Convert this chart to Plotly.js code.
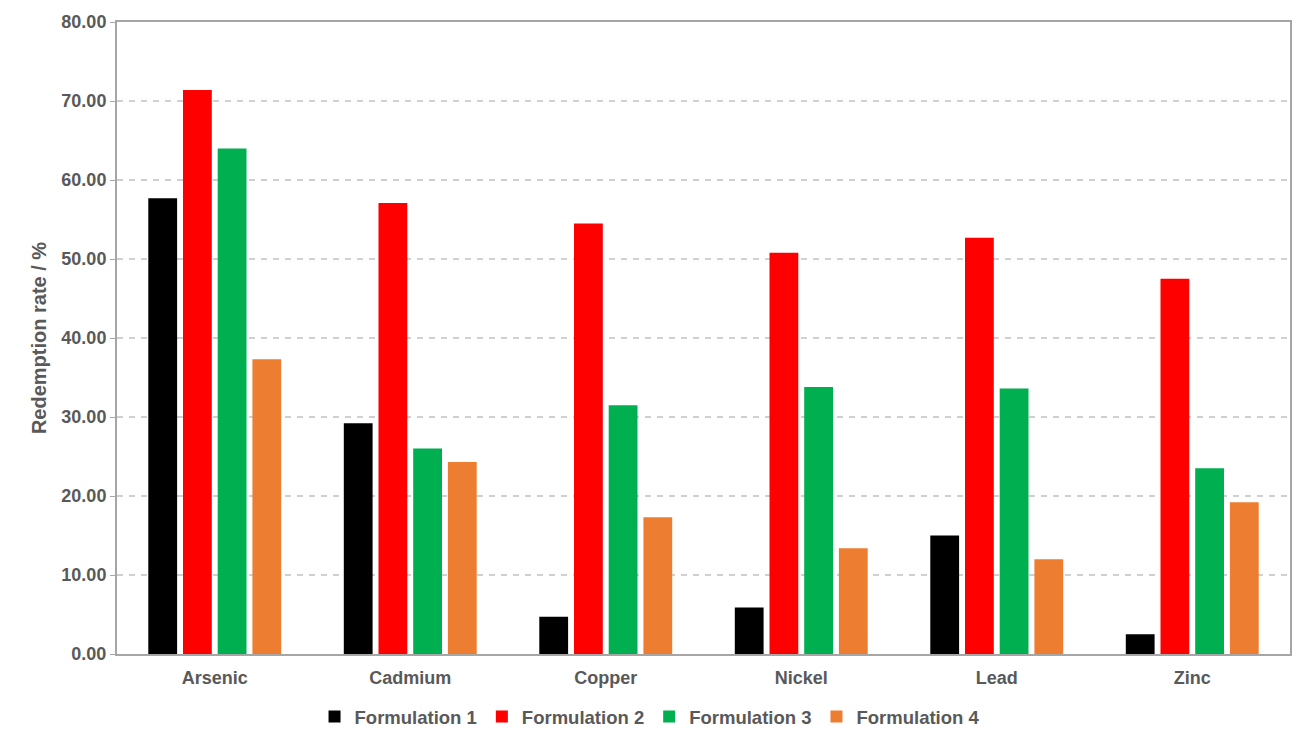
<!DOCTYPE html>
<html>
<head>
<meta charset="utf-8">
<script src="https://cdn.plot.ly/plotly-3.0.1.min.js"></script>
<style>html,body{margin:0;padding:0;background:#fff;}#chart{width:1312px;height:747px;}</style>
</head>
<body>
<div id="chart"></div>
<script>
const categories = ["Arsenic", "Cadmium", "Copper", "Nickel", "Lead", "Zinc"];
const seriesNames = ["Formulation 1", "Formulation 2", "Formulation 3", "Formulation 4"];
const formulation1 = [57.7, 29.2, 4.7, 5.9, 15.0, 2.5];
const formulation2 = [71.4, 57.1, 54.5, 50.8, 52.7, 47.5];
const formulation3 = [64.0, 26.0, 31.5, 33.8, 33.6, 23.5];
const formulation4 = [37.3, 24.3, 17.3, 13.4, 12.0, 19.2];
const colors = ["#000000", "#ff0000", "#00b050", "#ed7d31"];

const allValues = [formulation1, formulation2, formulation3, formulation4];
const traces = allValues.map((vals, i) => ({
  type: "bar",
  name: seriesNames[i],
  x: categories,
  y: vals,
  marker: {color: colors[i]},
  hoverinfo: "x+y+name"
}));

const fontFam = "'Liberation Sans', Arial, sans-serif";
const txt = {family: fontFam, size: 18, color: "#595959", weight: "bold"};
const layout = {
  width: 1312,
  height: 747,
  margin: {l: 117, r: 22, t: 22, b: 92},
  paper_bgcolor: "#ffffff",
  plot_bgcolor: "#ffffff",
  barmode: "group",
  bargap: 0.29,
  bargroupgap: 0.17,
  font: txt,
  xaxis: {
    showline: true,
    linecolor: "#a6a6a6",
    linewidth: 2,
    mirror: true,
    ticks: "",
    ticklabelstandoff: 6,
    tickfont: txt,
    showgrid: false
  },
  yaxis: {
    range: [0, 80],
    dtick: 10,
    tickformat: ".2f",
    showline: true,
    linecolor: "#a6a6a6",
    linewidth: 2,
    mirror: true,
    ticks: "outside",
    ticklen: 5,
    tickcolor: "#a6a6a6",
    tickwidth: 1,
    showgrid: true,
    gridcolor: "#d0d0d0",
    gridwidth: 1.5,
    griddash: "6px,6px",
    zeroline: false,
    tickfont: txt,
    title: {text: "Redemption rate / %", font: {family: fontFam, size: 20, color: "#595959", weight: "bold"}, standoff: 9}
  },
  legend: {
    orientation: "h",
    x: 0.454,
    xanchor: "center",
    y: -0.098,
    yanchor: "middle",
    font: {family: fontFam, size: 18.5, color: "#595959", weight: "bold"},
    itemwidth: 30,
    tracegroupgap: 0
  },
  showlegend: true
};

Plotly.newPlot("chart", traces, layout, {displayModeBar: false, staticPlot: true});
</script>
</body>
</html>
